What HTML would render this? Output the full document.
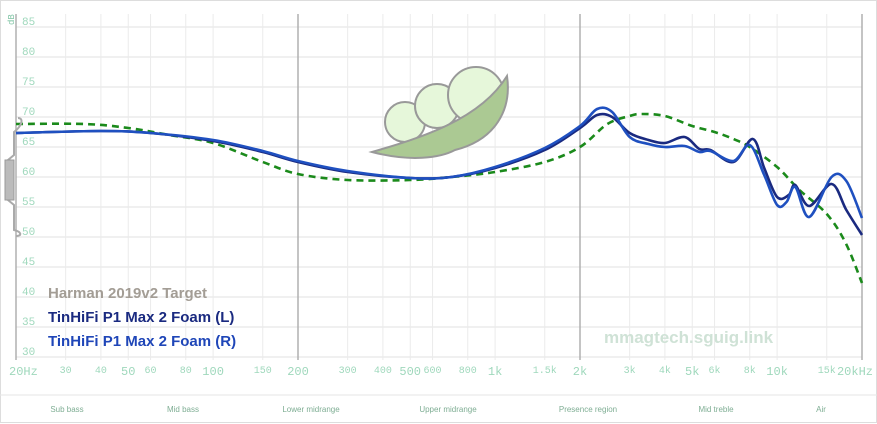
<!DOCTYPE html>
<html><head><meta charset="utf-8"><style>
html,body{margin:0;padding:0;background:#fff;width:877px;height:424px;overflow:hidden;font-family:"Liberation Sans",sans-serif}
</style></head><body>
<svg id="s" width="877" height="424" xmlns="http://www.w3.org/2000/svg" font-family="Liberation Mono, monospace">
<rect x="0" y="0" width="877" height="424" fill="#fff"/>
<rect x="0.5" y="0.5" width="876" height="422" fill="none" stroke="#ddd"/>
<line x1="0" y1="395" x2="877" y2="395" stroke="#e6e6e6"/>
<g id="grid"></g>
<g>
<circle cx="405" cy="122" r="20" fill="#e6f7da" stroke="#999" stroke-width="2"/>
<circle cx="437" cy="106" r="22" fill="#e6f7da" stroke="#999" stroke-width="2"/>
<circle cx="476" cy="95" r="28" fill="#e6f7da" stroke="#999" stroke-width="2"/>
<path d="M372 152 C420 138 480 120 507 76 C512 110 495 140 455 150 C440 158 410 162 372 152 Z" fill="#abc993" stroke="#999" stroke-width="2"/>
</g>
<g id="curves"></g>
<g font-family="Liberation Sans, sans-serif" font-weight="bold" font-size="15">
<text x="48" y="298" fill="#a39d95">Harman 2019v2 Target</text>
<text x="48" y="322" fill="#1a2a80">TinHiFi P1 Max 2 Foam (L)</text>
<text x="48" y="346" fill="#1f46b8">TinHiFi P1 Max 2 Foam (R)</text>
<text x="604" y="343" fill="#cfe2d6" font-size="17">mmagtech.sguig.link</text>
</g>
<g font-family="Liberation Sans, sans-serif" font-size="8" fill="#7fae94" text-anchor="middle">
<text x="67" y="412">Sub bass</text><text x="183" y="412">Mid bass</text><text x="311" y="412">Lower midrange</text>
<text x="448" y="412">Upper midrange</text><text x="588" y="412">Presence region</text><text x="716" y="412">Mid treble</text><text x="821" y="412">Air</text>
</g>
<path d="M18 118 C24 118 22 126 14 132 L14 155 L8 160 L8 200 L14 205 L14 230 C22 232 22 236 16 236" fill="none" stroke="#aaa" stroke-width="2"/>
<rect x="5" y="160" width="9" height="40" fill="#bbb" stroke="#999"/>
<text x="14" y="25" font-size="9" fill="#7fc4a4" transform="rotate(-90 14 25)">dB</text>
</svg>
<script>
const X=f=>16+846*Math.log10(f/20)/3, Y=d=>27+(85-d)*6;
let g='';
for(let d=30;d<=85;d+=5){g+=`<line x1="16" x2="862" y1="${Y(d)}" y2="${Y(d)}" stroke="#f0f0f0" stroke-width="2"/><text x="22" y="${Y(d)-2}" font-size="11" fill="#9fd8bc">${d}</text>`;}
const t=[[20,'20Hz'],[30,'30'],[40,'40'],[50,'50'],[60,'60'],[80,'80'],[100,'100'],[150,'150'],[200,'200'],[300,'300'],[400,'400'],[500,'500'],[600,'600'],[800,'800'],[1000,'1k'],[1500,'1.5k'],[2000,'2k'],[3000,'3k'],[4000,'4k'],[5000,'5k'],[6000,'6k'],[8000,'8k'],[10000,'10k'],[15000,'15k'],[20000,'20kHz']];
for(const [f,l] of t){const x=X(f);const big=[20,200,2000,20000].includes(f);const med=[50,100,500,1000,5000,10000].includes(f);
g+=`<line x1="${x}" x2="${x}" y1="14" y2="360" stroke="${big?'#b0b0b0':'#ebebeb'}" stroke-width="${big?1.5:1}"/>`;
let anc='middle',tx=x;if(f==20){anc='start';tx=9;}if(f==20000){anc='end';tx=873;}
g+=`<text x="${tx}" y="${med||big?375:373}" font-size="${med||big?12:10}" fill="#9fd8bc" text-anchor="${anc}">${l}</text>`;}
document.getElementById('grid').innerHTML=g;
function path(pts){const p=pts.map(([f,y])=>[X(f),y]);let s=`M${p[0][0]} ${p[0][1]}`;
for(let i=0;i<p.length-1;i++){const a=p[i-1]||p[i],b=p[i],c=p[i+1],e=p[i+2]||c;
s+=` C${b[0]+(c[0]-a[0])/6} ${b[1]+(c[1]-a[1])/6} ${c[0]-(e[0]-b[0])/6} ${c[1]-(e[1]-b[1])/6} ${c[0]} ${c[1]}`;}return s;}
const T=[[20,124],[35,124],[50,128],[70,135],[100,143],[150,162],[200,174],[300,180],[500,180],[700,177],[1000,172],[1500,162],[2000,147],[2500,124],[3000,116],[3300,114],[4000,116],[5000,126],[6000,132],[7000,139],[8000,147],[10000,167],[12000,190],[15000,214],[17500,243],[20000,283]];
const L=[[20,133],[40,131],[60,133],[100,141],[150,152],[200,162],[300,172],[500,178],[700,177],[1000,168],[1500,150],[2000,128],[2300,115],[2600,117],[3000,133],[3500,140],[4000,143],[4700,137],[5300,149],[5800,150],[7000,162],[8200,139],[9000,168],[10000,197],[11000,195],[11600,185],[13000,206],[15600,184],[17600,210],[20000,235]];
const R=[[20,133],[40,131],[60,133],[100,140],[150,151],[200,161],[300,171],[500,178],[700,177],[1000,167],[1500,148],[2000,126],[2300,109],[2600,112],[3000,137],[3500,144],[4000,147],[4700,146],[5300,152],[5800,151],[7000,161],[8000,145],[9000,175],[10000,205],[10800,202],[11600,187],[13000,217],[15600,177],[17600,181],[20000,218]];
document.getElementById('curves').innerHTML=
`<path d="${path(T)}" fill="none" stroke="#1b8a1b" stroke-width="2.6" stroke-dasharray="7 5"/>`+
`<path d="${path(L)}" fill="none" stroke="#1a2a80" stroke-width="2.6"/>`+
`<path d="${path(R)}" fill="none" stroke="#1f50c0" stroke-width="2.6"/>`;
</script>
</body></html>
